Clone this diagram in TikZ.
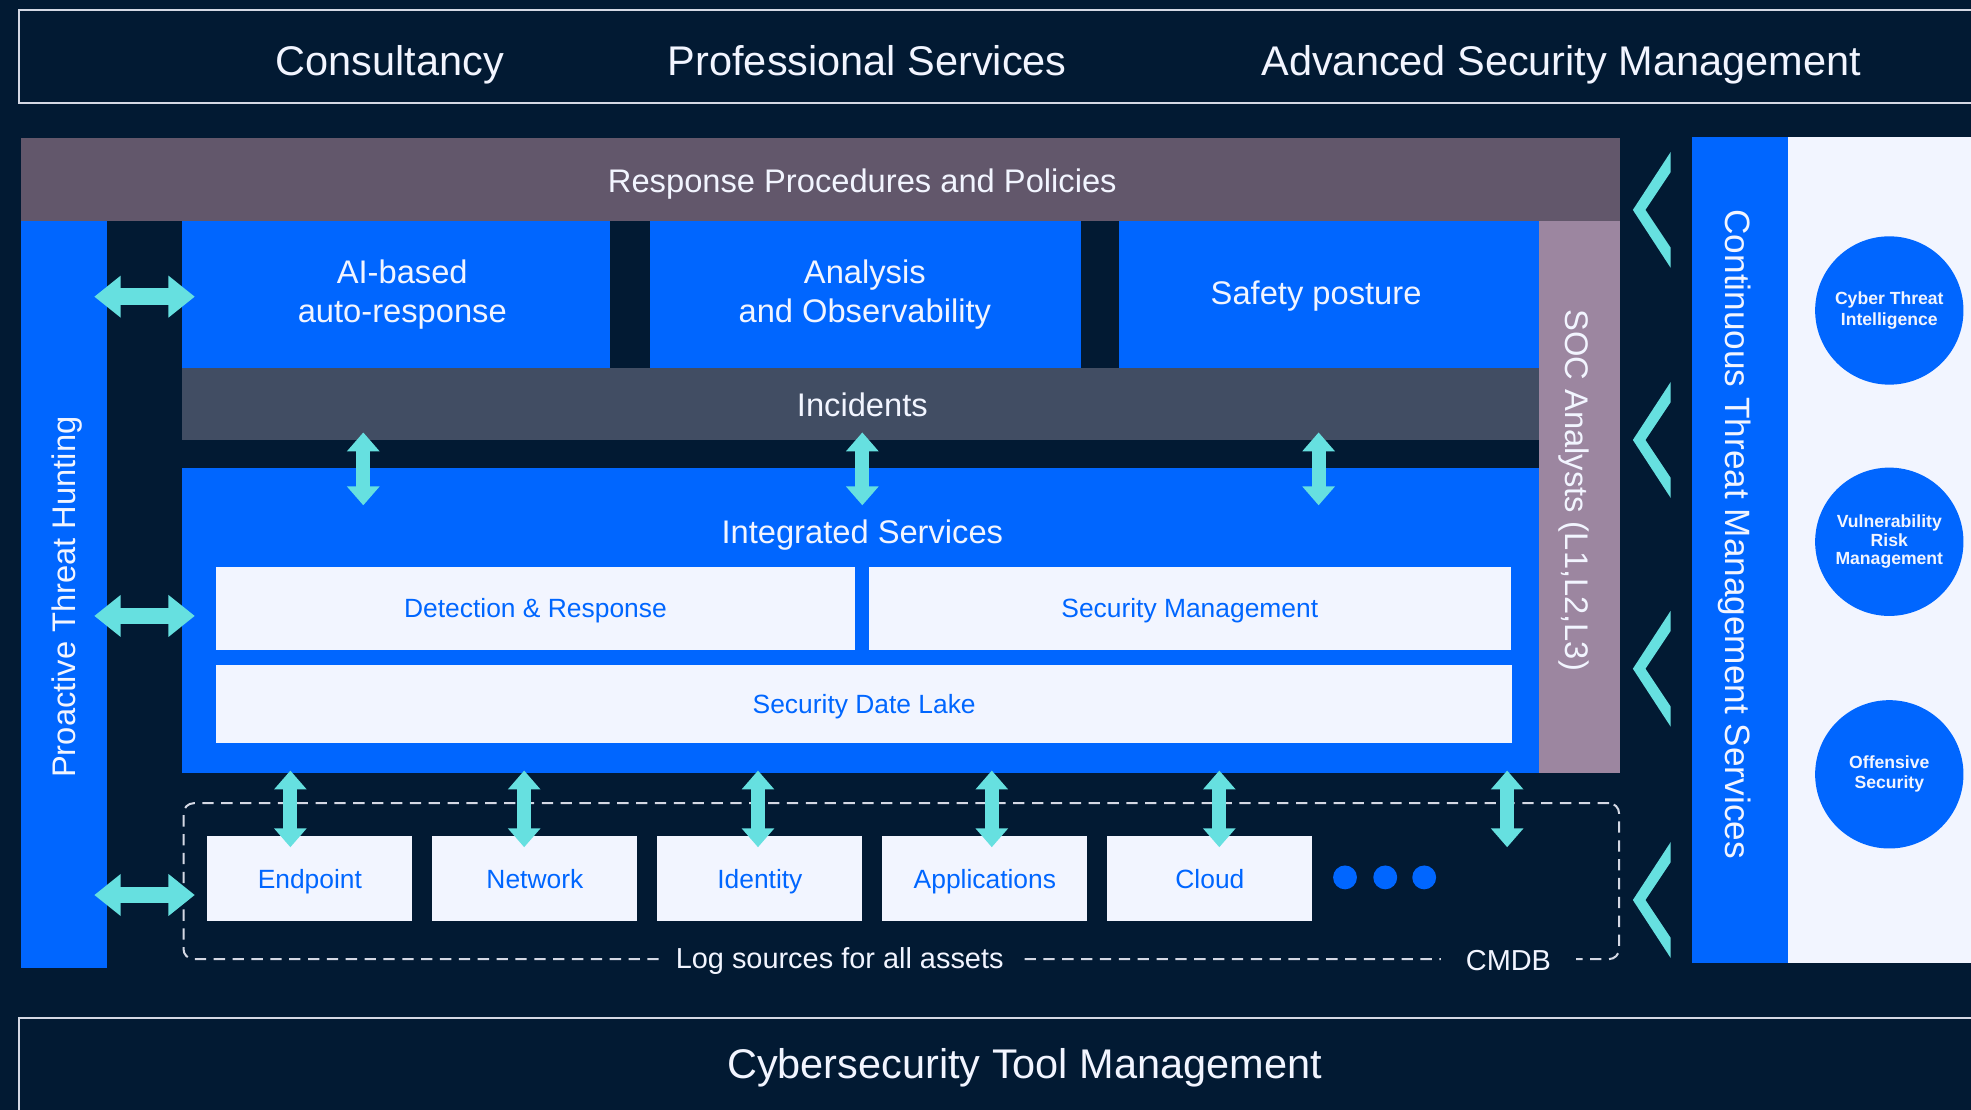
\documentclass[tikz,border=0pt]{standalone}
\usepackage{fontspec}
\setmainfont{Liberation Sans}
\usetikzlibrary{arrows.meta}

\definecolor{bg}{HTML}{021A33}
\definecolor{brand}{HTML}{0066FF}
\definecolor{policy}{HTML}{62576B}
\definecolor{soc}{HTML}{9C86A0}
\definecolor{incid}{HTML}{414D63}
\definecolor{pale}{HTML}{F2F5FF}
\definecolor{aqua}{HTML}{66E0E0}
\definecolor{rule}{HTML}{D4D8E4}

\tikzset{
  panel/.style={inner sep=0pt, outer sep=0pt, anchor=north west, draw=none},
  head/.style={text height=30.6pt, text depth=7pt, text=pale, font=\fontsize{33}{40}\selectfont},
  inner/.style={text=pale, font=\fontsize{26}{31}\selectfont, align=center},
  line1/.style={inner, text height=24.6pt, text depth=6pt},
  tile/.style={panel, text height=20pt, text depth=5pt, fill=pale, text=brand, font=\fontsize{21}{25}\selectfont},
  orb/.style={circle, fill=brand, minimum size=118pt, inner sep=0pt, text=pale,
    font=\bfseries\fontsize{14}{16}\selectfont, align=center},
  hdbl/.style={aqua, line width=13pt, {Triangle[width=32pt,length=21pt]}-{Triangle[width=32pt,length=21pt]}},
  vdbl/.style={aqua, line width=11pt, {Triangle[width=25pt,length=15pt]}-{Triangle[width=25pt,length=15pt]}},
  chev/.style={fill=aqua, draw=none},
  gaplabel/.style={text height=21.5pt, text depth=5pt, fill=bg, text=pale, inner xsep=12pt, inner ysep=0pt, font=\fontsize{23}{27}\selectfont}
}

\newcommand\chevron[1]{%
  \fill[chev] (1299,#1) -- (1329,#1-46) -- (1329,#1-30) -- (1309,#1)
    -- (1329,#1+30) -- (1329,#1+46) -- cycle;}

\begin{document}
\begin{tikzpicture}[x=1pt,y=-1pt]
\useasboundingbox (0,0) rectangle (1568,883);
\fill[bg] (0,0) rectangle (1568,883);
\clip (0,0) rectangle (1568,883);

% service lines along the top
\node[panel, draw=rule, line width=1.5pt, minimum width=1600pt, minimum height=74pt] (top) at (15,8) {};
\node[head] (consult) at (310,48) {Consultancy};
\node[head] (prof) at (690,48) {Professional Services};
\node[head] (asm) at (1242,48) {Advanced Security Management};

% response procedures header
\node[panel, fill=policy, minimum width=1272pt, minimum height=66pt] (policy) at (17,110) {};
\node[line1] at (686,144) {Response Procedures and Policies};

% threat hunting column
\node[panel, fill=brand, minimum width=68pt, minimum height=594pt] (hunt) at (17,176) {};
\node[line1, rotate=90] at (51,475) {Proactive Threat Hunting};

% capability tiles
\node[panel, fill=brand, minimum width=340pt, minimum height=117pt] (ai) at (145,176) {};
\node[inner] at (320,234) {AI-based\\auto-response};
\node[panel, fill=brand, minimum width=343pt, minimum height=117pt] (obs) at (517,176) {};
\node[inner] at (688,234) {Analysis\\and Observability};
\node[panel, fill=brand, minimum width=334pt, minimum height=117pt] (safe) at (890,176) {};
\node[line1] at (1047,233) {Safety posture};

% SOC analysts column
\node[panel, fill=soc, minimum width=65pt, minimum height=439pt] (socbar) at (1224,176) {};
\node[line1, rotate=-90] at (1255,390) {SOC Analysts (L1,L2,L3)};

% incidents band
\node[panel, fill=incid, minimum width=1079pt, minimum height=57pt] (inc) at (145,293) {};
\node[line1] at (686,322) {Incidents};

% integrated services block
\node[panel, fill=brand, minimum width=1079pt, minimum height=243pt] (integ) at (145,372) {};
\node[line1] at (686,423) {Integrated Services};
\node[tile, minimum width=508pt, minimum height=66pt] (detect) at (172,451) {Detection \& Response};
\node[tile, minimum width=511pt, minimum height=66pt] (secmgmt) at (691,451) {Security Management};
\node[tile, minimum width=1031pt, minimum height=62pt] (lake) at (172,529) {Security Date Lake};

% log sources
\node[panel, draw=rule, line width=1.6pt, dash pattern=on 9pt off 6pt, rounded corners=8pt,
  minimum width=1142pt, minimum height=124pt] (logs) at (146,639) {};
\node[gaplabel] (loglbl) at (668,762) {Log sources for all assets};
\node[gaplabel, inner xsep=20pt] (cmdb) at (1200,764) {CMDB};
\node[tile, minimum width=163pt, minimum height=68pt] (endp) at (165,665) {Endpoint};
\node[tile, minimum width=163pt, minimum height=68pt] (netw) at (344,665) {Network};
\node[tile, minimum width=163pt, minimum height=68pt] (ident) at (523,665) {Identity};
\node[tile, minimum width=163pt, minimum height=68pt] (apps) at (702,665) {Applications};
\node[tile, minimum width=163pt, minimum height=68pt] (cloud) at (881,665) {Cloud};
\fill[brand] (1070,698) circle (9.5pt) (1102,698) circle (9.5pt) (1133,698) circle (9.5pt);

% continuous threat management column and services
\node[panel, fill=brand, minimum width=76pt, minimum height=657pt] (ctm) at (1346,109) {};
\node[text height=26pt, text depth=6pt, text=pale, font=\fontsize{28}{33}\selectfont, rotate=-90] at (1383,425) {Continuous Threat Management Services};
\node[panel, fill=pale, minimum width=200pt, minimum height=657pt] (svc) at (1422,109) {};
\node[orb] (cti) at (1503,247) {Cyber Threat\\Intelligence};
\node[orb, font=\bfseries\fontsize{14}{14.6}\selectfont] (vrm) at (1503,431) {Vulnerability\\Risk\\Management};
\node[orb] (offs) at (1503,616) {Offensive\\Security};

% tool management footer
\node[panel, draw=rule, line width=1.5pt, minimum width=1600pt, minimum height=100pt] (tools) at (15,810) {};
\node[head] at (815,846) {Cybersecurity Tool Management};

% links from the hunting column
\coordinate (h1a) at (75,236);  \coordinate (h1b) at (155,236);
\coordinate (h2a) at (75,490);  \coordinate (h2b) at (155,490);
\coordinate (h3a) at (75,712);  \coordinate (h3b) at (155,712);
\draw[hdbl] (h1a) -- (h1b);
\draw[hdbl] (h2a) -- (h2b);
\draw[hdbl] (h3a) -- (h3b);

% links between incidents and integrated services
\foreach \x [count=\i] in {289,686,1049} {
  \coordinate (ia\i) at (\x,344); \coordinate (ib\i) at (\x,402);
  \draw[vdbl] (ia\i) -- (ib\i);
}

% links between integrated services and log sources
\foreach \x [count=\i] in {231,417,603,789,970,1199} {
  \coordinate (la\i) at (\x,613); \coordinate (lb\i) at (\x,674);
  \draw[vdbl] (la\i) -- (lb\i);
}

% chevrons feeding from the continuous services
\chevron{167}
\chevron{350}
\chevron{532}
\chevron{716}

\end{tikzpicture}
\end{document}
